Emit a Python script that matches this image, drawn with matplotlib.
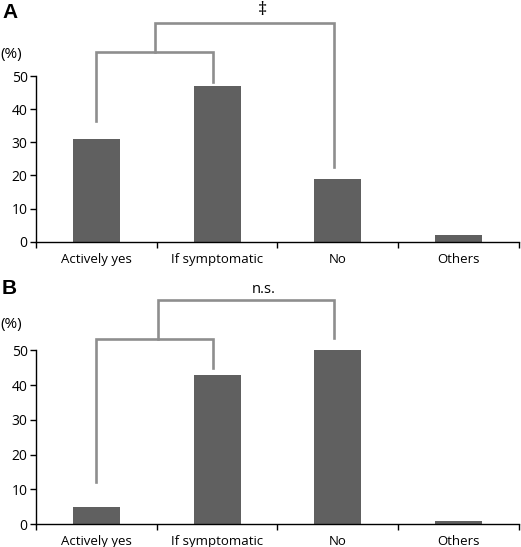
import numpy as np
import matplotlib.pyplot as plt

categories = ['Actively yes', 'If symptomatic', 'No', 'Others']
values_a = [31, 47, 19, 2]
values_b = [5, 43, 50, 1]

# bracket geometry in data units: (left x, right x, height, left foot, right foot)
inner_a = (0.0, 0.97, 57.3, 36.5, 48.3)
outer_a = (0.49, 1.97, 66.1, 57.3, 22.5)
inner_b = (0.0, 0.97, 53.2, 12.0, 45.0)
outer_b = (0.51, 1.97, 64.5, 53.2, 53.7)

plt.rcParams['font.family'] = ['Open Sans', 'DejaVu Sans']

fig = plt.figure(figsize=(5.21, 5.47), dpi=100)
ax_a = fig.add_axes([0.069, 0.558, 0.927, 0.303])
ax_b = fig.add_axes([0.069, 0.042, 0.927, 0.3175])

bar_color = '#606060'
br_color = '#8e8e8e'


def bracket(ax, spec):
    x0, x1, h, f0, f1 = spec
    ax.plot([x0, x0, x1, x1], [f0, h, h, f1], color=br_color, lw=1.9,
            clip_on=False, solid_joinstyle='miter')


def panel(ax, vals, inner, outer, sig, sig_size):
    x = np.arange(len(categories))
    ax.bar(x, vals, width=0.39, color=bar_color)
    ax.set_xlim(-0.5, 3.5)
    ax.set_ylim(0, 50)
    ax.set_yticks(range(0, 51, 10))
    ax.set_xticks(np.arange(-0.5, 4, 1))
    ax.set_xticklabels([])
    ax.set_xticks(x, minor=True)
    ax.set_xticklabels(categories, minor=True)
    ax.tick_params(axis='x', which='minor', length=0, pad=8, labelsize=9.5)
    ax.tick_params(axis='x', which='major', length=4, width=1, direction='out')
    ax.tick_params(axis='y', length=4, width=1, direction='out', labelsize=10, pad=2)
    for s in ['top', 'right']:
        ax.spines[s].set_visible(False)
    ax.spines['left'].set_linewidth(1)
    ax.spines['bottom'].set_linewidth(1)
    bracket(ax, inner)
    bracket(ax, outer)
    ax.text((outer[0] + outer[1]) / 2 + 0.15, outer[2] + 1.0, sig, ha='center', va='bottom',
            fontsize=sig_size)


panel(ax_a, values_a, inner_a, outer_a, '‡', 13)
panel(ax_b, values_b, inner_b, outer_b, 'n.s.', 10.5)

fig.text(0.004, 0.995, 'A', fontsize=15, fontweight='bold', family='Liberation Sans',
         ha='left', va='top')
fig.text(0.004, 0.49, 'B', fontsize=15, fontweight='bold', family='Liberation Sans',
         ha='left', va='top')
fig.text(0.0, 0.8995, '(%)', fontsize=11, ha='left', va='center')
fig.text(0.0, 0.406, '(%)', fontsize=11, ha='left', va='center')

fig.savefig('out.png', dpi=100)
